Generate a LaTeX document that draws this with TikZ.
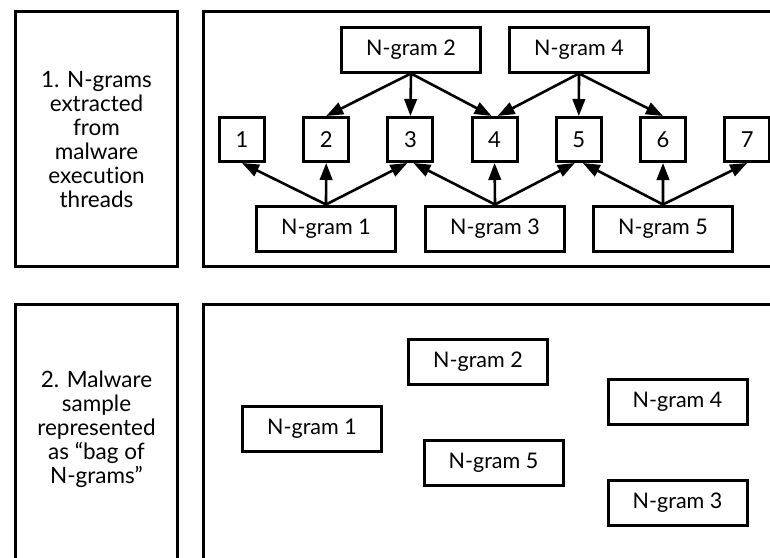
\documentclass[tikz,border=0pt]{standalone}
\usepackage{fontspec}
\setmainfont{Lato}[Ligatures=NoCommon]
\usetikzlibrary{arrows.meta}
\begin{document}
\begin{tikzpicture}[x=1pt,y=-1pt,
  panel/.style={draw=black,line width=3pt},
  ngbox/.style={draw=black,line width=3pt,minimum width=139pt,minimum height=45pt,inner sep=0pt,font=\fontsize{21.5}{24}\selectfont},
  numbox/.style={draw=black,line width=3pt,minimum width=45pt,minimum height=44pt,inner sep=0pt,font=\fontsize{22}{24}\selectfont},
  sidetext/.style={align=center,font=\fontsize{22.5}{24}\selectfont,inner sep=0pt},
  arr/.style={line width=2.6pt,-{Triangle[length=17pt,width=12.5pt]}}]
\useasboundingbox (0,0) rectangle (770,557);
\clip (0,0) rectangle (770,557);
% panels
\draw[panel] (15.5,11.5) rectangle (177.5,266.5);
\draw[panel] (203.5,11.5) rectangle (790,266.5);
\draw[panel] (15.5,304.5) rectangle (177.5,580);
\draw[panel] (203.5,304.5) rectangle (790,580);
% side texts
\node[sidetext] (t1) at (96.5,140) {1. N-grams\\extracted\\from\\malware\\execution\\threads};
\node[sidetext] (t2) at (96.5,429) {2. Malware\\sample\\represented\\as “bag of\\N-grams”};
% top panel
\node[ngbox] (a2) at (411,49.5) {N-gram 2};
\node[ngbox] (a4) at (579,49.5) {N-gram 4};
\foreach \i in {1,...,7} {
  \node[numbox] (b\i) at ({242+84.2*(\i-1)},139.5) {\i};
}
\node[ngbox] (a1) at (326,228.5) {N-gram 1};
\node[ngbox] (a3) at (495,228.5) {N-gram 3};
\node[ngbox] (a5) at (663,228.5) {N-gram 5};
% arrows down
\draw[arr] (a2.south) -- (b2.north);
\draw[arr] (a2.south) -- (b3.north);
\draw[arr] (a2.south) -- ([xshift=-3pt]b4.north);
\draw[arr] (a4.south) -- ([xshift=3pt]b4.north);
\draw[arr] (a4.south) -- (b5.north);
\draw[arr] (a4.south) -- (b6.north);
% arrows up
\draw[arr] (a1.north) -- (b1.south);
\draw[arr] (a1.north) -- (b2.south);
\draw[arr] (a1.north) -- ([xshift=-3pt]b3.south);
\draw[arr] (a3.north) -- ([xshift=3pt]b3.south);
\draw[arr] (a3.north) -- (b4.south);
\draw[arr] (a3.north) -- ([xshift=-4pt]b5.south);
\draw[arr] (a5.north) -- ([xshift=4pt]b5.south);
\draw[arr] (a5.north) -- (b6.south);
\draw[arr] (a5.north) -- (b7.south);
% bottom panel
\node[ngbox] (c1) at (312,429) {N-gram 1};
\node[ngbox] (c2) at (478,362) {N-gram 2};
\node[ngbox] (c5) at (493.5,463) {N-gram 5};
\node[ngbox] (c4) at (677.5,401.5) {N-gram 4};
\node[ngbox] (c3) at (677.5,502.5) {N-gram 3};
\end{tikzpicture}
\end{document}
